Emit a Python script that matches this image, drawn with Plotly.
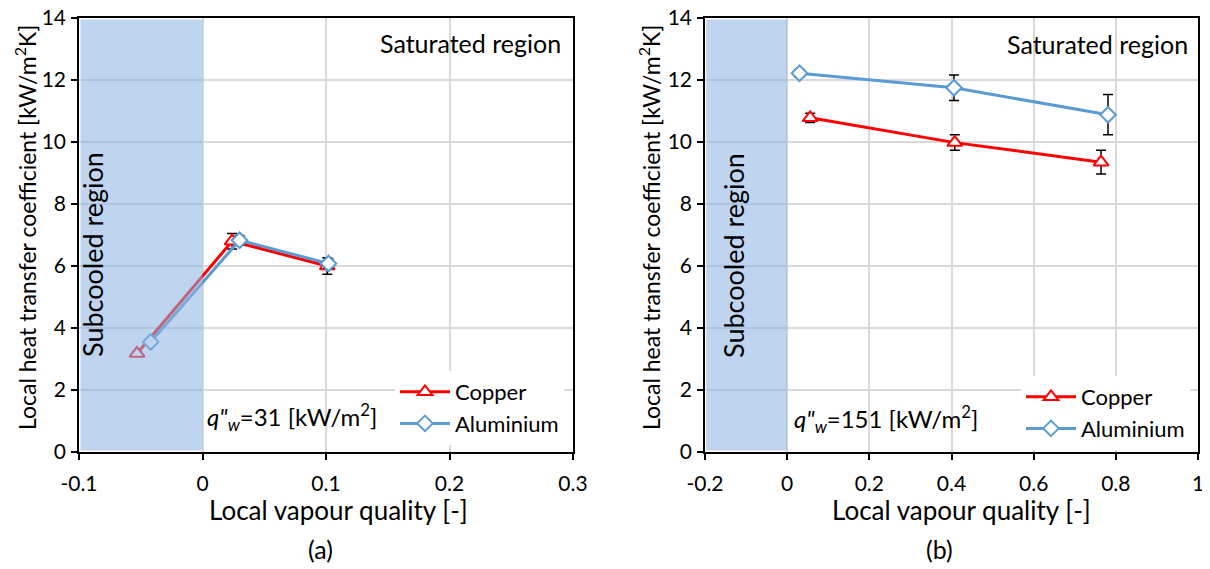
import plotly.graph_objects as go

# ---- data ----
cu_a_x = [-0.053, 0.024, 0.101]
cu_a_y = [3.18, 6.80, 6.00]
cu_a_err = [0.05, 0.25, 0.27]
al_a_x = [-0.042, 0.030, 0.102]
al_a_y = [3.55, 6.83, 6.08]
al_a_err = [0.05, 0.15, 0.15]

cu_b_x = [0.056, 0.408, 0.764]
cu_b_y = [10.78, 9.98, 9.35]
cu_b_err = [0.15, 0.25, 0.38]
al_b_x = [0.030, 0.406, 0.781]
al_b_y = [12.22, 11.75, 10.88]
al_b_err = [0.12, 0.41, 0.65]

xa_ticks = [-0.1, 0, 0.1, 0.2, 0.3]
xa_text = ["-0.1", "0", "0.1", "0.2", "0.3"]
xb_ticks = [-0.2, 0, 0.2, 0.4, 0.6, 0.8, 1.0]
xb_text = ["-0.2", "0", "0.2", "0.4", "0.6", "0.8", "1"]
y_ticks = [0, 2, 4, 6, 8, 10, 12, 14]

FONT = "Lato"
RED = "#FF0000"
BLUE = "#5B9BD5"
W, H = 1210, 569
OFF = 8  # page body margin


def px(X):
    return (X - OFF) / W


def py(Y):
    return 1 - (Y - OFF) / H


fig = go.Figure()


def add_series(x, y, err, name, color, symbol, xa, ya, legend, size):
    fig.add_trace(go.Scatter(
        x=x, y=y, name=name, mode="lines+markers",
        xaxis=xa, yaxis=ya, legend=legend,
        line=dict(color=color, width=3),
        marker=dict(symbol=symbol, size=size, color="white",
                    line=dict(color=color, width=2)),
        error_y=dict(type="data", array=err, color="black",
                     thickness=1.5, width=5),
    ))


add_series(cu_a_x, cu_a_y, cu_a_err, "Copper", RED, "triangle-up", "x", "y", "legend", 13)
add_series(al_a_x, al_a_y, al_a_err, "Aluminium", BLUE, "diamond", "x", "y", "legend", 12)
add_series(cu_b_x, cu_b_y, cu_b_err, "Copper", RED, "triangle-up", "x2", "y2", "legend2", 13)
add_series(al_b_x, al_b_y, al_b_err, "Aluminium", BLUE, "diamond", "x2", "y2", "legend2", 12)

# subcooled shading (drawn above, semi-transparent)
shade = "rgba(140,178,225,0.56)"
fig.add_shape(type="rect", xref="x", yref="y", x0=-0.0988, x1=0, y0=0.05, y1=13.95,
              fillcolor=shade, line=dict(width=0), layer="above")
fig.add_shape(type="rect", xref="x2", yref="y2", x0=-0.197, x1=0, y0=0.05, y1=13.95,
              fillcolor=shade, line=dict(width=0), layer="above")

axis_common = dict(
    showline=True, linecolor="black", linewidth=1.5, mirror=True,
    ticks="outside", ticklen=6, tickcolor="black", tickwidth=1.5,
    showgrid=True, gridcolor="#D9D9D9", gridwidth=1.5, zeroline=False,
    tickfont=dict(family=FONT, size=21, color="black"),
    automargin=False, ticklabeloverflow="allow",
)

ydom = [py(452), py(18)]
fig.update_layout(
    width=W, height=H,
    margin=dict(l=0, r=0, t=0, b=0),
    paper_bgcolor="white", plot_bgcolor="white",
    font=dict(family=FONT, size=21, color="black"),
    xaxis=dict(domain=[px(79), px(573)], range=[-0.1, 0.3], tickvals=xa_ticks,
               ticktext=xa_text, anchor="y", ticklabelstandoff=6, **axis_common),
    yaxis=dict(domain=ydom, range=[0, 14], tickvals=y_ticks,
               anchor="x", ticklabelstandoff=1, **axis_common),
    xaxis2=dict(domain=[px(705), px(1198)], range=[-0.2, 1.0], tickvals=xb_ticks,
                ticktext=xb_text, anchor="y2", ticklabelstandoff=6, **axis_common),
    yaxis2=dict(domain=ydom, range=[0, 14], tickvals=y_ticks,
                anchor="x2", ticklabelstandoff=1, **axis_common),
    legend=dict(x=px(395), y=py(371), xanchor="left", yanchor="top",
                bgcolor="white", font=dict(family=FONT, size=22),
                tracegroupgap=0, itemwidth=50),
    legend2=dict(x=px(1021), y=py(376), xanchor="left", yanchor="top",
                 bgcolor="white", font=dict(family=FONT, size=22),
                 tracegroupgap=0, itemwidth=50),
)


def ann(text, X, Y, size, xanchor="center", angle=0):
    fig.add_annotation(text=text, xref="paper", yref="paper", x=px(X), y=py(Y),
                       xanchor=xanchor, yanchor="middle", textangle=angle,
                       showarrow=False, font=dict(family=FONT, size=size, color="black"))


ytitle = "Local heat transfer coefficient [kW/m<sup>2</sup>K]"
xtitle = "Local vapour quality [-]"
# axis titles
ann(ytitle, 25, 228, 23, angle=-90)
ann(ytitle, 649, 228, 23, angle=-90)
ann(xtitle, 338, 510, 26)
ann(xtitle, 962, 510, 26)
# Saturated region labels
ann("Saturated region", 563, 43, 25, xanchor="right")
ann("Saturated region", 1190, 44, 25, xanchor="right")
# Subcooled region labels
ann("Subcooled region", 92, 255, 27, angle=-90)
ann("Subcooled region", 734, 256, 27, angle=-90)
# heat flux labels
ann("<i>q\"<sub>w</sub></i>=31 [kW/m<sup>2</sup>]", 205, 417, 24, xanchor="left")
ann("<i>q\"<sub>w</sub></i>=151 [kW/m<sup>2</sup>]", 792, 419, 24, xanchor="left")
# panel labels
ann("(a)", 320, 549, 25)
ann("(b)", 939, 549, 25)

fig.write_html("out.html")
